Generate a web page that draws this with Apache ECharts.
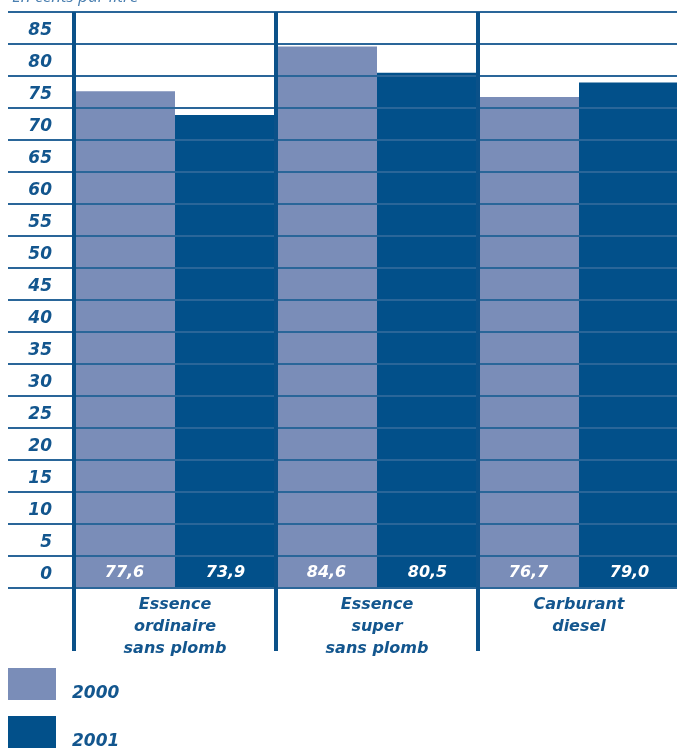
<!DOCTYPE html>
<html>
<head>
<meta charset="utf-8">
<script src="https://cdn.jsdelivr.net/npm/echarts@6/dist/echarts.min.js"></script>
<style>html,body{margin:0;padding:0;background:#fff;overflow:hidden}#c{width:700px;height:749px}</style>
</head>
<body>
<div id="c"></div>
<script>
var categories = ['Essence\nordinaire\nsans plomb', 'Essence\nsuper\nsans plomb', 'Carburant\ndiesel'];
var values2000 = [77.6, 84.6, 76.7];
var values2001 = [73.9, 80.5, 79.0];
var tickLabels = ['0','5','10','15','20','25','30','35','40','45','50','55','60','65','70','75','80','85'];
var seriesNames = ['2000', '2001'];

var FONT = '"DejaVu Sans", sans-serif';
var TXT = '#13568e';
var LIGHT = '#7a8db8';
var DARK = '#02508a';
var GRIDC = '#2a6699';
var SEP = '#0b5189';

function fmt(p){ return p.value.toFixed(1).replace('.', ','); }

var legendText = {fontFamily: FONT, fontSize: 17, fontWeight: 'bold', fontStyle: 'italic', color: TXT, lineHeight: 19, padding: [0, 0, 0, 11]};

var chart = echarts.init(document.getElementById('c'), null, {renderer:'canvas'});
chart.setOption({
  animation: false,
  title: {
    text: 'En cents par litre', left: 7, top: -16,
    textStyle: {fontFamily: '"Open Sans", sans-serif', fontSize: 17, fontWeight: 'normal', fontStyle: 'italic', color: '#4a7fb0'}
  },
  grid: [
    {left: 8, top: 12, width: 66, height: 576},
    {left: 74, top: 12, width: 606, height: 576}
  ],
  legend: [
    {data: [seriesNames[0]], left: 8, top: 665, padding: 0, formatter: '\n{name}',
      itemWidth: 48, itemHeight: 32, icon: 'rect', textStyle: legendText},
    {data: [seriesNames[1]], left: 8, top: 713, padding: 0, formatter: '\n{name}',
      itemWidth: 48, itemHeight: 32, icon: 'rect', textStyle: legendText}
  ],
  xAxis: [
    {gridIndex: 0, type: 'value', show: false, min: 0, max: 1},
    {
      gridIndex: 1, type: 'category', data: categories, z: 10,
      axisLine: {show: false},
      axisTick: {show: true, alignWithLabel: false, interval: 0, length: 63, lineStyle: {color: SEP, width: 4}},
      splitLine: {show: true, interval: 0, lineStyle: {color: SEP, width: 4}},
      axisLabel: {margin: 6, interval: 0, fontFamily: FONT, fontSize: 16, fontWeight: 'bold', fontStyle: 'italic', color: TXT, lineHeight: 22}
    }
  ],
  yAxis: [
    {gridIndex: 0, type: 'value', min: 0, max: 90, interval: 5,
      axisLine: {show: false}, axisTick: {show: false}, axisLabel: {show: false},
      splitLine: {show: true, lineStyle: {color: GRIDC, width: 2}}},
    {gridIndex: 0, type: 'category', data: tickLabels, position: 'right',
      axisLine: {show: false}, axisTick: {show: false}, splitLine: {show: false},
      axisLabel: {inside: true, margin: 22, formatter: function (v) { return '{a|' + v + '}'; },
        rich: {a: {padding: [6, 0, 0, 0], fontFamily: FONT, fontSize: 17, fontWeight: 'bold', fontStyle: 'italic', color: TXT}},
        fontFamily: FONT, fontSize: 17, fontWeight: 'bold', fontStyle: 'italic', color: TXT}},
    {gridIndex: 1, type: 'value', min: 0, max: 90, interval: 5, z: 9,
      axisLine: {show: false}, axisTick: {show: false}, axisLabel: {show: false},
      splitLine: {show: true, lineStyle: {color: GRIDC, width: 2}}}
  ],
  series: [
    {name: seriesNames[0], type: 'bar', xAxisIndex: 1, yAxisIndex: 2, data: values2000,
      barGap: '0%', barCategoryGap: '0%', itemStyle: {color: LIGHT},
      label: {show: true, position: 'insideBottom', distance: 7, formatter: fmt,
        fontFamily: FONT, fontSize: 16, fontWeight: 'bold', fontStyle: 'italic', color: '#fff'}},
    {name: seriesNames[1], type: 'bar', xAxisIndex: 1, yAxisIndex: 2, data: values2001,
      barGap: '0%', barCategoryGap: '0%', itemStyle: {color: DARK},
      label: {show: true, position: 'insideBottom', distance: 7, formatter: fmt,
        fontFamily: FONT, fontSize: 16, fontWeight: 'bold', fontStyle: 'italic', color: '#fff'}}
  ]
});
</script>
</body>
</html>
